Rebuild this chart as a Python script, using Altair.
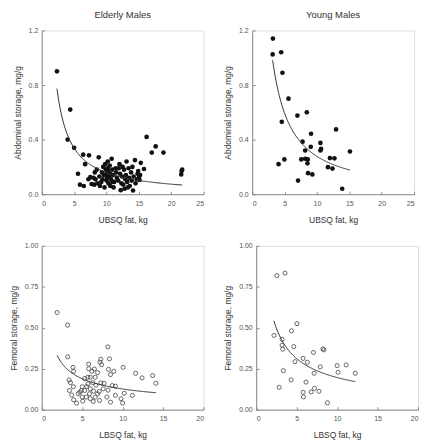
import altair as alt
import numpy as np
import pandas as pd

FONT = "Liberation Sans"

# Elderly males, abdominal storage vs UBSQ fat
eld_abd_x = [2.35, 4.0, 4.4, 5.0, 5.6, 5.9, 6.4, 6.5, 6.7, 7.2, 7.3, 7.5, 7.7, 8.0, 8.1, 8.2, 8.3, 8.5, 8.6, 8.8,
             8.9, 9.0, 9.2, 9.3, 9.4, 9.5, 9.6, 9.7, 9.8, 9.9, 10.0, 10.0, 10.1, 10.2, 10.2, 10.3, 10.3, 10.4, 10.5, 10.6,
             10.6, 10.7, 10.8, 10.9, 10.9, 11.0, 11.1, 11.2, 11.4, 11.5, 11.6, 11.8, 11.9, 12.0, 12.1, 12.2, 12.3, 12.4, 12.5, 12.6,
             12.7, 12.8, 12.9, 13.0, 13.1, 13.2, 13.3, 13.4, 13.5, 13.6, 13.8, 13.9, 14.0, 14.1, 14.2, 14.4, 14.5, 14.7, 14.8, 14.9,
             15.0, 15.1, 15.2, 15.3, 15.8, 16.2, 17.0, 17.6, 18.8, 21.55, 21.6, 21.7]
eld_abd_y = [0.90, 0.40, 0.62, 0.34, 0.15, 0.07, 0.29, 0.06, 0.22, 0.11, 0.285, 0.125, 0.075, 0.12, 0.07, 0.16, 0.11, 0.18, 0.08, 0.27,
             0.13, 0.06, 0.09, 0.16, 0.11, 0.20, 0.14, 0.05, 0.22, 0.18, 0.10, 0.15, 0.12, 0.19, 0.24, 0.08, 0.17, 0.13, 0.21, 0.15,
             0.06, 0.11, 0.26, 0.18, 0.09, 0.14, 0.05, 0.09, 0.19, 0.16, 0.12, 0.10, 0.19, 0.22, 0.15, 0.03, 0.08, 0.13, 0.20, 0.07,
             0.18, 0.04, 0.11, 0.14, 0.24, 0.09, 0.05, 0.19, 0.12, 0.06, 0.16, 0.10, 0.20, 0.027, 0.13, 0.25, 0.08, 0.11, 0.15, 0.17,
             0.12, 0.105, 0.14, 0.23, 0.185, 0.42, 0.305, 0.35, 0.305, 0.145, 0.17, 0.18]

# Young males, abdominal storage vs UBSQ fat
yng_abd_x = [3.2, 3.16, 4.47, 4.67, 5.6, 4.57, 4.07, 4.97, 6.98, 8.43, 7.08, 7.78, 7.58, 8.18, 8.18, 8.58,
             8.53, 9.09, 9.04, 8.63, 9.29, 10.54, 10.64, 10.54, 11.7, 12.0, 12.4, 12.7, 12.95, 13.9, 15.1]
yng_abd_y = [1.14, 1.024, 1.04, 0.89, 0.70, 0.53, 0.22, 0.255, 0.576, 0.60, 0.10, 0.385, 0.255, 0.26, 0.32, 0.255,
             0.226, 0.443, 0.347, 0.154, 0.145, 0.376, 0.333, 0.32, 0.198, 0.265, 0.188, 0.263, 0.475, 0.04, 0.313]

# Elderly males, femoral storage vs LBSQ fat
eld_fem_x = [1.9, 3.2, 3.2, 3.86, 3.94, 3.38, 3.54, 3.42, 3.7, 3.94, 4.3, 3.9, 4.7, 5.0, 5.0, 5.07, 5.8, 5.8, 6.2, 6.5,
             6.9, 7.3, 7.4, 7.2, 8.17, 8.37, 8.25, 8.5, 8.9, 10.06, 11.6, 12.4, 13.7, 14.1, 11.2, 10.2, 10.0, 9.8, 9.1, 8.7,
             9.1, 8.2, 7.7, 7.3, 7.1, 7.15, 6.6, 6.36, 6.0, 5.9, 6.0, 5.55, 5.3, 5.7, 6.0, 6.3, 6.6, 6.7, 6.4, 5.5,
             8.5, 8.05, 7.6, 5.3, 5.7, 6.9, 4.9, 4.5]
eld_fem_y = [0.593, 0.516, 0.323, 0.258, 0.234, 0.181, 0.165, 0.117, 0.089, 0.06, 0.04, 0.14, 0.107, 0.14, 0.077, 0.052, 0.278, 0.25, 0.234, 0.248,
             0.226, 0.308, 0.274, 0.29, 0.383, 0.31, 0.246, 0.214, 0.234, 0.258, 0.222, 0.194, 0.208, 0.161, 0.087, 0.10, 0.04, 0.067, 0.087, 0.147,
             0.143, 0.119, 0.161, 0.163, 0.111, 0.056, 0.077, 0.05, 0.067, 0.097, 0.127, 0.141, 0.19, 0.198, 0.198, 0.165, 0.198, 0.149, 0.113, 0.077,
             0.046, 0.077, 0.127, 0.117, 0.157, 0.097, 0.117, 0.097]

# Young males, femoral storage vs LBSQ fat
yng_fem_x = [2.56, 3.56, 5.04, 2.2, 3.2, 3.2, 3.28, 4.36, 4.64, 3.36, 4.8, 2.84, 4.32, 5.8, 6.32, 7.08,
             8.24, 8.36, 7.92, 7.16, 7.2, 6.16, 5.8, 5.84, 6.8, 7.76, 8.8, 10.0, 10.12, 11.12, 12.24]
yng_fem_y = [0.818, 0.834, 0.525, 0.453, 0.429, 0.393, 0.369, 0.481, 0.385, 0.238, 0.293, 0.136, 0.182, 0.313, 0.289, 0.349,
             0.371, 0.365, 0.261, 0.222, 0.13, 0.168, 0.106, 0.078, 0.108, 0.112, 0.042, 0.269, 0.228, 0.273, 0.222]

AXC = "#777777"
W, H = 163, 165


def power_fit(xs, ys):
    """Least-squares fit of y = a * x**b on the raw (untransformed) values."""
    x = np.asarray(xs, float)
    y = np.asarray(ys, float)
    best = None
    for b in np.arange(-2.5, 0.0001, 0.001):
        xb = x ** b
        a = (y * xb).sum() / (xb * xb).sum()
        sse = ((y - a * xb) ** 2).sum()
        if best is None or sse < best[0]:
            best = (sse, a, b)
    _, a, b = best
    gx = np.linspace(x.min(), x.max(), 120)
    return pd.DataFrame({"x": gx, "y": a * gx ** b})


def panel(xs, ys, filled, xmax, xticks, ymax, yticks, yfmt, xtitle, ytitle, title=None):
    df = pd.DataFrame({"x": xs, "y": ys})
    curve = power_fit(xs, ys)
    xsc = alt.Scale(domain=[0, xmax], nice=False)
    ysc = alt.Scale(domain=[0, ymax], nice=False)
    xaxis = alt.Axis(values=xticks, title=xtitle, ticks=False, grid=False, domainColor=AXC, domainWidth=0.8,
                     labelColor="#555555", labelFontSize=7, labelFont=FONT, labelPadding=5,
                     titleFont=FONT, titleFontSize=8.5, titleFontWeight="normal", titleColor="#333333", titlePadding=9)
    yaxis = alt.Axis(values=yticks, format=yfmt, title=ytitle, ticks=False, grid=False, domainColor=AXC, domainWidth=0.8,
                     labelColor="#555555", labelFontSize=7, labelFont=FONT, labelPadding=4,
                     titleFont=FONT, titleFontSize=8.5, titleFontWeight="normal", titleColor="#333333", titlePadding=6)
    xtick = alt.Axis(values=xticks, orient="bottom", offset=-3, tickSize=3, tickColor=AXC, tickWidth=0.8,
                     domain=False, labels=False, title=None, grid=False)
    ytick = alt.Axis(values=yticks, orient="left", offset=-3, tickSize=3, tickColor=AXC, tickWidth=0.8,
                     domain=False, labels=False, title=None, grid=False)
    if filled:
        pts = alt.Chart(df).mark_circle(size=22, color="#111111", opacity=1)
    else:
        pts = alt.Chart(df).mark_point(shape="circle", size=17, filled=False, color="#444444",
                                       strokeWidth=0.8, opacity=1)
    pts = pts.encode(x=alt.X("x:Q", scale=xsc, axis=xaxis), y=alt.Y("y:Q", scale=ysc, axis=yaxis))
    fit = alt.Chart(curve).mark_line(color="#333333", strokeWidth=1).encode(
        x=alt.X("x:Q", scale=xsc, axis=xtick), y=alt.Y("y:Q", scale=ysc, axis=ytick)
    )
    props = dict(width=W, height=H)
    if title:
        props["title"] = alt.TitleParams(text=title, font=FONT, fontSize=9.5, fontWeight="normal",
                                         color="#333333", anchor="middle", offset=7)
    return alt.layer(pts, fit).resolve_axis(x="independent", y="independent").properties(**props)


p1 = panel(eld_abd_x, eld_abd_y, True, 25, [0, 5, 10, 15, 20, 25], 1.2, [0, 0.4, 0.8, 1.2], ".1f",
           "UBSQ fat, kg", "Abdominal storage, mg/g", "Elderly Males")
p2 = panel(yng_abd_x, yng_abd_y, True, 25, [0, 5, 10, 15, 20, 25], 1.2, [0, 0.4, 0.8, 1.2], ".1f",
           "UBSQ fat, kg", "Abdominal storage, mg/g", "Young Males")
p3 = panel(eld_fem_x, eld_fem_y, False, 20, [0, 5, 10, 15, 20], 1.0, [0, 0.25, 0.5, 0.75, 1.0], ".2f",
           "LBSQ fat, kg", "Femoral storage, mg/g")
p4 = panel(yng_fem_x, yng_fem_y, False, 20, [0, 5, 10, 15, 20], 1.0, [0, 0.25, 0.5, 0.75, 1.0], ".2f",
           "LBSQ fat, kg", "Femoral storage, mg/g")

chart = alt.vconcat(
    alt.hconcat(p1, p2, spacing=18),
    alt.hconcat(p3, p4, spacing=18),
    spacing=17,
).properties(padding=0).configure_view(stroke=None).configure(background="white")

chart.save("out.html", embed_options={"renderer": "svg", "actions": False})
